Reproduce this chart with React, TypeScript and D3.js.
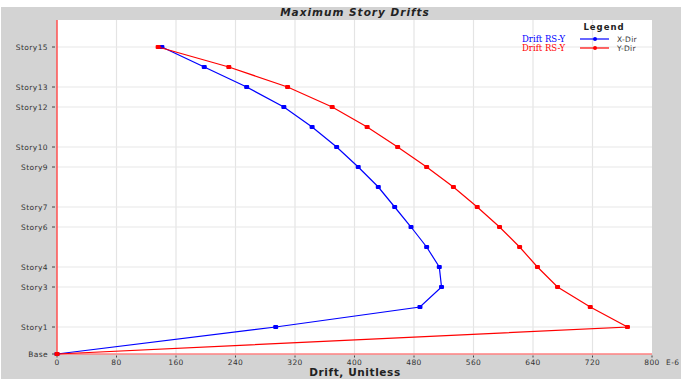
import React, { useEffect, useRef } from 'react';
import * as d3 from 'd3';

const stories = ['Base', 'Story1', 'Story2', 'Story3', 'Story4', 'Story5', 'Story6', 'Story7', 'Story8', 'Story9', 'Story10', 'Story11', 'Story12', 'Story13', 'Story14', 'Story15'];
const elevations = [0, 4.05, 7.05, 10.05, 13.05, 16.05, 19.05, 22.05, 25.05, 28.05, 31.05, 34.05, 37.05, 40.05, 43.05, 46.05];
const labeledStories = ['Base', 'Story1', 'Story3', 'Story4', 'Story6', 'Story7', 'Story9', 'Story10', 'Story12', 'Story13', 'Story15'];
const driftX = [0, 294, 488, 517, 514, 497, 476, 454, 432, 405, 376, 343, 305, 255, 198, 141];
const driftY = [0, 767, 717, 673, 646, 622, 595, 565, 533, 497, 458, 417, 370, 310, 231, 136];
const xTicks = [0, 80, 160, 240, 320, 400, 480, 560, 640, 720, 800];
const seriesNames = ['X-Dir', 'Y-Dir'];
const seriesColors = ['#0000ff', '#ff0000'];

const W = 681;
const H = 379;

const App: React.FC = () => {
  const svgRef = useRef<SVGSVGElement>(null);

  useEffect(() => {
    if (!svgRef.current) return;
    const svg = d3.select(svgRef.current);
    svg.selectAll('*').remove();

    const margin = { top: 20, right: 29, bottom: 25, left: 57 };
    const width = W - margin.left - margin.right;
    const height = H - margin.top - margin.bottom;
    const font = 'DejaVu Sans, Verdana, sans-serif';

    // gray frame
    svg.append('rect').attr('x', 1).attr('y', 7).attr('width', W - 1).attr('height', H - 7).attr('fill', '#d3d3d3');

    const x = d3.scaleLinear().domain([0, 800]).range([0, width]);
    const y = d3.scaleLinear().domain([0, 50.1]).range([height, 0]);
    const elevOf = (s: string) => elevations[stories.indexOf(s)];

    const g = svg.append('g').attr('transform', `translate(${margin.left},${margin.top})`);
    g.append('rect').attr('width', width).attr('height', height).attr('fill', '#fff');

    // grid
    g.selectAll('.vgrid').data(xTicks.slice(1, -1)).enter().append('line')
      .attr('x1', d => x(d)).attr('x2', d => x(d)).attr('y1', 0).attr('y2', height)
      .attr('stroke', '#e4e4e4').attr('stroke-width', 1.2);
    g.selectAll('.hgrid').data(labeledStories.slice(1)).enter().append('line')
      .attr('x1', 0).attr('x2', width).attr('y1', d => y(elevOf(d))).attr('y2', d => y(elevOf(d)))
      .attr('stroke', '#e8e8e8').attr('stroke-width', 1.2);

    // axes lines
    g.append('line').attr('x1', 0).attr('x2', width).attr('y1', height).attr('y2', height)
      .attr('stroke', '#ff8080').attr('stroke-width', 1.5);
    g.append('line').attr('x1', 0).attr('x2', 0).attr('y1', 0).attr('y2', height)
      .attr('stroke', '#ff5050').attr('stroke-width', 1.5);

    // x ticks
    const xt = g.append('g').attr('transform', `translate(0,${height})`);
    xTicks.forEach(t => {
      xt.append('line').attr('x1', x(t)).attr('x2', x(t)).attr('y1', 1.5).attr('y2', 3.5).attr('stroke', '#444');
      xt.append('text').attr('x', x(t)).attr('y', 10.5).attr('text-anchor', 'middle')
        .style('font-family', font).style('font-size', '7.5px').style('letter-spacing', '0.4px')
        .style('fill', '#333').text(String(t));
    });
    xt.append('text').attr('x', x(800) + 14).attr('y', 10.5)
      .style('font-family', font).style('font-size', '7.5px').style('letter-spacing', '0.4px')
      .style('fill', '#333').text('E-6');

    // y ticks
    labeledStories.forEach(s => {
      const yy = y(elevOf(s));
      g.append('line').attr('x1', -5).attr('x2', -2).attr('y1', yy).attr('y2', yy).attr('stroke', '#444');
      g.append('text').attr('x', -9).attr('y', yy + 3).attr('text-anchor', 'end')
        .style('font-family', font).style('font-size', '7.5px').style('letter-spacing', '0.4px')
        .style('fill', '#333').text(s);
    });

    // series
    const line = d3.line<[number, number]>().x(d => x(d[0])).y(d => y(d[1]));
    [driftX, driftY].forEach((vals, i) => {
      const pts: [number, number][] = vals.map((v, k) => [v, elevations[k]]);
      g.append('path').attr('d', line(pts)).attr('fill', 'none')
        .attr('stroke', seriesColors[i]).attr('stroke-width', 1.2);
      g.selectAll(`.pt${i}`).data(pts).enter().append('rect')
        .attr('x', d => x(d[0]) - 2.5).attr('y', d => y(d[1]) - 2)
        .attr('width', 5).attr('height', 4).attr('rx', 1).attr('fill', seriesColors[i]);
    });

    // title
    svg.append('text').attr('x', 355).attr('y', 16).attr('text-anchor', 'middle')
      .style('font-family', font).style('font-size', '10.5px').style('font-weight', 'bold')
      .style('font-style', 'italic').style('letter-spacing', '1px').style('fill', '#222')
      .text('Maximum Story Drifts');

    // legend
    const lg = svg.append('g');
    lg.append('text').attr('x', 604).attr('y', 30).attr('text-anchor', 'middle')
      .style('font-family', font).style('font-size', '8.5px').style('font-weight', 'bold')
      .style('letter-spacing', '1px').style('fill', '#222').text('Legend');
    seriesNames.forEach((n, i) => {
      const yy = 39 + i * 9;
      lg.append('text').attr('x', 565).attr('y', yy + 3).attr('text-anchor', 'end')
        .style('font-family', 'DejaVu Serif, Times New Roman, serif').style('font-size', '8.5px')
        .style('fill', seriesColors[i]).text('Drift RS-Y');
      lg.append('line').attr('x1', 580).attr('x2', 609).attr('y1', yy).attr('y2', yy)
        .attr('stroke', seriesColors[i]).attr('stroke-width', 1.2);
      lg.append('circle').attr('cx', 595).attr('cy', yy).attr('r', 2).attr('fill', seriesColors[i]);
      lg.append('text').attr('x', 617).attr('y', yy + 3)
        .style('font-family', font).style('font-size', '7.5px').style('letter-spacing', '0.3px')
        .style('fill', '#333').text(n);
    });

    // x axis title
    svg.append('text').attr('x', 355).attr('y', 376).attr('text-anchor', 'middle')
      .style('font-family', font).style('font-size', '10.5px').style('font-weight', 'bold')
      .style('letter-spacing', '0.6px').style('fill', '#222').text('Drift, Unitless');
  }, []);

  return (
    <div style={{ position: 'absolute', left: 0, top: 0, width: W, height: H }}>
      <svg ref={svgRef} width={W} height={H} style={{ display: 'block' }} />
    </div>
  );
};

export default App;
